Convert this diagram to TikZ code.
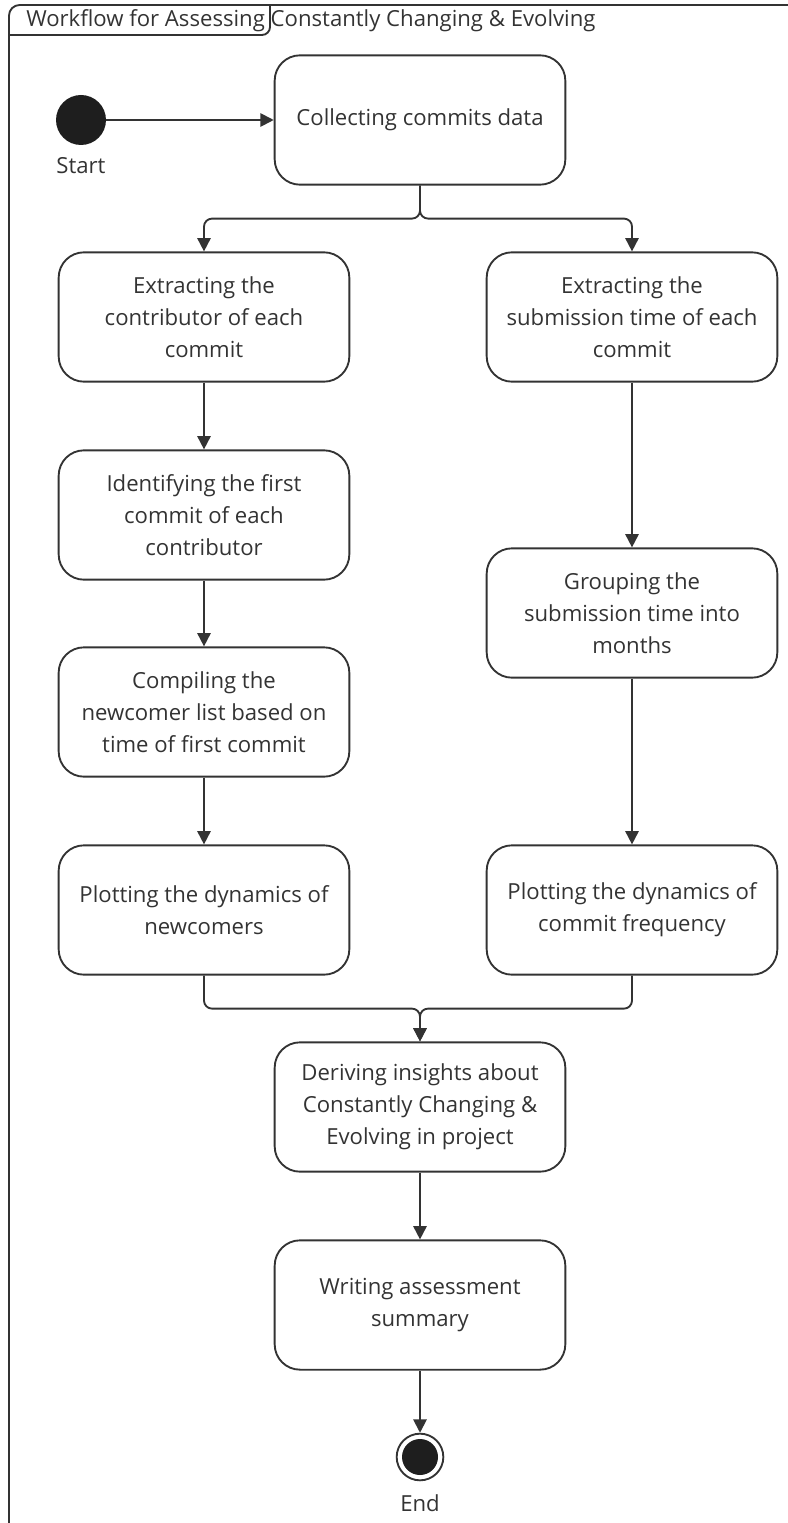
\documentclass[tikz,border=0pt]{standalone}
\usepackage[rgb]{xcolor}
\usepackage{fontspec}
\setmainfont{Open Sans}
\usetikzlibrary{arrows.meta}

\definecolor{linegray}{HTML}{333333}
\definecolor{dotblack}{HTML}{1E1E1E}

\tikzset{
  activity/.style = {draw = linegray, line width = 1.4pt, rounded corners = 19pt,
    minimum width = 218pt, minimum height = 97pt, align = center,
    text = linegray, font = \fontsize{16.6}{24}\selectfont},
  flow/.style = {draw = linegray, line width = 1.4pt,
    -{Triangle[length = 10pt, width = 10pt]}},
  label/.style = {text = linegray, font = \fontsize{16.6}{24}\selectfont}
}

\begin{document}
\begin{tikzpicture}[x=0.75pt, y=-0.75pt]

\useasboundingbox (0,0) rectangle (788,1523);

% frame of the workflow, cut by the page at right and bottom
\draw [linegray, line width = 1.4pt, rounded corners = 8pt]
  (9,1560) |- (820,5);
\draw [linegray, line width = 1.4pt, rounded corners = 6pt]
  (9,35) -| (270,5);
\path
(26,21) node [label, anchor = west, inner xsep = 0pt] (title)
{Workflow for Assessing Constantly Changing \& Evolving};

% start and end points
\path
(81,120) node [circle, fill = dotblack, minimum size = 37.5pt, inner sep = 0pt] (start) {}
(81,166) node [label] (startlabel) {Start};

\path
(420,1457) node [circle, draw = linegray, line width = 1.4pt,
  minimum size = 35pt, inner sep = 0pt] (finish) {}
(420,1503) node [label] (endlabel) {End};
\fill [dotblack] (finish) circle [radius = 13.5pt];

% activities
\path
(420,120) node [activity] (collect) {Collecting commits data}
(204,317) node [activity] (contrib) {Extracting the\\contributor of each\\commit}
(632,317) node [activity] (subtime) {Extracting the\\submission time of each\\commit}
(204,515) node [activity] (firstcommit) {Identifying the first\\commit of each\\contributor}
(632,613) node [activity] (months) {Grouping the\\submission time into\\months}
(204,712) node [activity] (newcomers) {Compiling the\\newcomer list based on\\time of first commit}
(204,910) node [activity] (plotnew) {Plotting the dynamics of\\newcomers}
(632,910) node [activity] (plotfreq) {Plotting the dynamics of\\commit frequency}
(420,1107) node [activity] (insights) {Deriving insights about\\Constantly Changing \&\\Evolving in project}
(420,1305) node [activity] (summary) {Writing assessment\\summary};

% connectors
\draw [flow] (start) -- (start -| collect.west);

\draw [flow, rounded corners = 6pt] (collect.south) -- ++(0,33) -| (contrib.north);
\draw [flow, rounded corners = 6pt] (collect.south) -- ++(0,33) -| (subtime.north);

\draw [flow] (contrib) -- (firstcommit);
\draw [flow] (firstcommit) -- (newcomers);
\draw [flow] (newcomers) -- (plotnew);
\draw [flow] (subtime) -- (months);
\draw [flow] (months) -- (plotfreq);

\draw [flow, rounded corners = 6pt] (plotnew.south) -- ++(0,33) -| (insights.north);
\draw [flow, rounded corners = 6pt] (plotfreq.south) -- ++(0,33) -| (insights.north);

\draw [flow] (insights) -- (summary);
\draw [flow] (summary) -- (finish);

\end{tikzpicture}
\end{document}
